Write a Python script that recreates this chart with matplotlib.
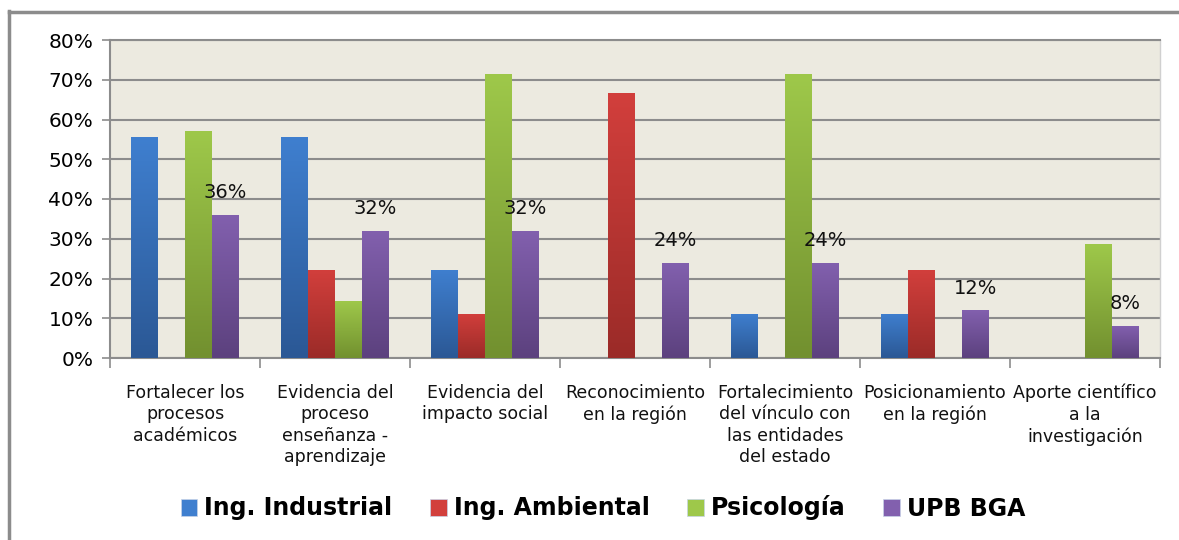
import numpy as np
import matplotlib
matplotlib.use("Agg")
import matplotlib.pyplot as plt
from matplotlib import font_manager
from matplotlib.colors import LinearSegmentedColormap
from matplotlib.patches import Rectangle, Patch
from matplotlib.lines import Line2D

categories = [
    "Fortalecer los\nprocesos\nacadémicos",
    "Evidencia del\nproceso\nenseñanza -\naprendizaje",
    "Evidencia del\nimpacto social",
    "Reconocimiento\nen la región",
    "Fortalecimiento\ndel vínculo con\nlas entidades\ndel estado",
    "Posicionamiento\nen la región",
    "Aporte científico\na la\ninvestigación",
]
series_names = ["Ing. Industrial", "Ing. Ambiental", "Psicología", "UPB BGA"]
ing_industrial = [55.5, 55.5, 22.2, 0, 11.1, 11.1, 0]
ing_ambiental = [0, 22.2, 11.1, 66.7, 0, 22.2, 0]
psicologia = [57.1, 14.3, 71.4, 0, 71.4, 0, 28.6]
upb_bga = [36, 32, 32, 24, 24, 12, 8]
yticks = [0, 10, 20, 30, 40, 50, 60, 70, 80]

series = [ing_industrial, ing_ambiental, psicologia, upb_bga]
top_colors = ["#3F7FCF", "#D23F3C", "#9EC84A", "#8260AE"]
bot_colors = ["#2B5895", "#9B2B28", "#72902F", "#5C417E"]

avail = {f.name for f in font_manager.fontManager.ttflist}
narrow = "Liberation Sans Narrow" if "Liberation Sans Narrow" in avail else (
    "DejaVu Sans Condensed" if "DejaVu Sans Condensed" in avail else "DejaVu Sans")

fig = plt.figure(figsize=(11.79, 5.40), dpi=100)
fig.patch.set_facecolor("white")
ax = fig.add_axes([110/1179, 1-358/540, (1160-110)/1179, (358-40)/540])
ax.set_facecolor("#ECEAE0")

n = len(categories)
x = np.arange(n)
w = 0.18
offsets = [-1.5*w, -0.5*w, 0.5*w, 1.5*w]
for vals, off, tc, bc in zip(series, offsets, top_colors, bot_colors):
    cmap = LinearSegmentedColormap.from_list("g", [bc, tc])
    bars = ax.bar(x + off, vals, width=w, color=tc, edgecolor="none", zorder=3)
    for b in bars:
        h = b.get_height()
        if h <= 0:
            continue
        x0 = b.get_x()
        im = ax.imshow(np.linspace(0, 1, 100).reshape(-1, 1), cmap=cmap, origin="lower",
                       extent=[x0, x0 + b.get_width(), 0, h], aspect="auto", zorder=3.5,
                       interpolation="bicubic")
        im.set_clip_path(b)

for xi, v in zip(x + offsets[3], upb_bga):
    ax.annotate(f"{v:g}%", (xi, v), xytext=(0, 16), textcoords="offset points",
                ha="center", va="center", fontsize=14, color="#111111", zorder=5)

ax.set_xlim(-0.5, n - 0.5)
ax.set_ylim(0, 80)
ax.set_yticks(yticks)
ax.set_yticklabels([f"{t}%" for t in yticks], fontsize=14.5)
ax.yaxis.grid(True, color="#8C8C8C", linewidth=1.5, zorder=1)
ax.set_axisbelow(True)
ax.set_xticks(np.arange(n + 1) - 0.5)
ax.set_xticklabels([])
ax.tick_params(axis="y", length=6, color="#8C8C8C", width=1.2, pad=6)
ax.tick_params(axis="x", length=7, color="#8C8C8C", width=1.2)
for s in ["left", "bottom"]:
    ax.spines[s].set_color("#8C8C8C")
    ax.spines[s].set_linewidth(1.5)
ax.spines["top"].set_color("#8C8C8C")
ax.spines["top"].set_linewidth(1.5)
ax.spines["right"].set_color("#D0D0D0")
ax.spines["right"].set_linewidth(1)

for xi, lab in zip(x, categories):
    ax.text(xi, -6.5, lab, ha="center", va="top", fontsize=12.5, family=narrow,
            linespacing=1.25, color="#111111")

handles = [Patch(facecolor=c, edgecolor="#C8D4E8", linewidth=0.5) for c in top_colors]
leg = fig.legend(handles, series_names, loc="center", bbox_to_anchor=(603/1179, 1-508/540),
                 ncol=4, frameon=False, handlelength=0.7, handleheight=0.7,
                 handletextpad=0.3, columnspacing=1.6,
                 prop={"family": narrow, "weight": "bold", "size": 17})

# outer border lines
fig.add_artist(Line2D([9/1179, 9/1179], [0, 1-11/540], color="#8C8C8C", linewidth=2.5,
                      transform=fig.transFigure))
fig.add_artist(Line2D([9/1179, 1], [1-12/540, 1-12/540], color="#8C8C8C", linewidth=2.5,
                      transform=fig.transFigure))

fig.savefig("out.png", dpi=100, facecolor="white")
